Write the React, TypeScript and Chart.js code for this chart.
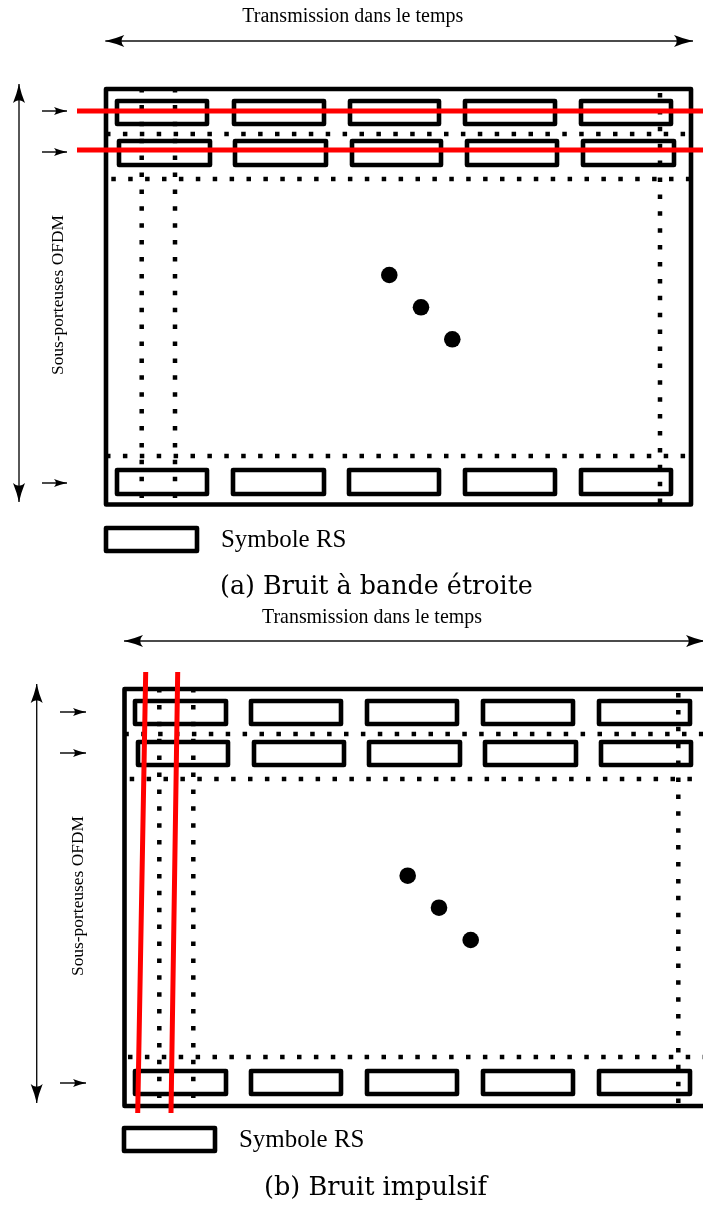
import React, { useEffect, useRef } from "react";
import { Chart, registerables } from "chart.js";

Chart.register(...registerables);

const CANVAS_W = 703;
const CANVAS_H = 1205;

// ---------- Panel (a) : narrow-band noise ----------
const frameA = [106, 89, 691, 504.5];
const rowYA = [[101, 124], [141, 165], [470, 494]];
const colXA = [
  [[117, 207], [234, 324], [350, 439], [465, 555], [581, 671]],
  [[119, 210], [235, 326], [352, 441], [467, 557], [583, 674]],
  [[117, 207], [233, 324], [349, 439], [465, 555], [581, 671]],
];
const legendRectA = [106, 528, 197, 551];
const dottedA = [
  [106, 134, 688, 134],
  [111.3, 179, 690, 179],
  [106, 456, 688, 456],
  [141.7, 88, 141.7, 500],
  [175, 88, 175, 500],
  [660, 93, 660, 505],
];
const dotsA = [[389.3, 275], [421, 307.3], [452.3, 339.3]];
const redLinesA = [[77, 111, 703, 111], [77, 150, 703, 150]];

// ---------- Panel (b) : impulsive noise ----------
const frameB = [124.5, 689, 712, 1106];
const rowYB = [[701, 724], [742, 765], [1071, 1094]];
const colXB = [
  [[135, 226], [251, 341], [367, 457], [483, 573], [599, 690]],
  [[138, 228], [254, 344], [369, 460], [485, 576], [601, 691]],
  [[135, 226], [251, 341], [367, 457], [483, 573], [599, 690]],
];
const legendRectB = [124, 1128, 215, 1151];
const dottedB = [
  [124.3, 734, 712, 734],
  [129.7, 779, 712, 779],
  [128, 1057, 712, 1057],
  [159.3, 688, 159.3, 1104],
  [193.3, 688, 193.3, 1104],
  [678.3, 693, 678.3, 1110],
];
const dotsB = [[407.7, 875.7], [439, 907.7], [470.7, 940]];
const redLinesB = [[145.7, 672, 137.7, 1113], [177.7, 672, 171, 1113]];

// ---------- Arrows ----------
const timeArrows = [[105.3, 41, 693, 41], [124, 641, 705, 641]];
const carrierArrows = [[19, 84, 19, 502], [36.7, 684, 36.7, 1103]];
const smallArrows = [
  [42, 111, 67, 111], [42, 152, 67, 152], [42, 483, 67, 483],
  [60, 712, 86, 712], [60, 753, 86, 753], [60, 1083, 86, 1083],
];

// ---------- Texts ----------
const timeLabel = "Transmission dans le temps";
const timeLabelSpans = [[242.3, 22, 463.3], [262, 622.7, 482]]; // left, baseline, right
const carrierLabel = "Sous-porteuses OFDM";
const carrierLabelSpans = [[63, 375, 215], [82.5, 976, 816]]; // baseline x, start y, end y
const legendLabel = "Symbole RS";
const legendLabelSpans = [[221, 546.7, 346.5], [239, 1146.7, 364.5]];
const captions = ["(a) Bruit à bande étroite", "(b) Bruit impulsif"];
const captionSpans = [[220, 594, 533], [264, 1195, 487]];

// ---------- helpers ----------
function rectPath(r: number[]) {
  const [x1, y1, x2, y2] = r;
  const mx = (x1 + x2) / 2;
  return [[mx, y1], [x2, y1], [x2, y2], [x1, y2], [x1, y1], [mx, y1]];
}
function segPath(s: number[]) {
  return [[s[0], s[1]], [s[2], s[3]]];
}
function toPts(polys: number[][][]) {
  const out: any[] = [];
  polys.forEach((poly) => {
    poly.forEach(([x, y]) => out.push({ x, y }));
    out.push({ x: poly[poly.length - 1][0], y: null });
  });
  return out;
}
function cells(rowY: number[][], colX: number[][][]) {
  const out: number[][] = [];
  rowY.forEach(([y1, y2], i) => colX[i].forEach(([x1, x2]) => out.push([x1, y1, x2, y2])));
  return out;
}

const allRects = [
  frameA, frameB, legendRectA, legendRectB,
  ...cells(rowYA, colXA), ...cells(rowYB, colXB),
];

const arrowLines = [...timeArrows, ...carrierArrows, ...smallArrows];

function drawHead(ctx: CanvasRenderingContext2D, X1: number, Y1: number, X2: number, Y2: number, L: number, Wd: number) {
  const a = Math.atan2(Y2 - Y1, X2 - X1);
  ctx.save();
  ctx.translate(X2, Y2);
  ctx.rotate(a);
  ctx.beginPath();
  ctx.moveTo(0, 0);
  ctx.quadraticCurveTo(-L * 0.5, Wd * 0.18, -L, Wd / 2);
  ctx.quadraticCurveTo(-L * 0.7, 0, -L, -Wd / 2);
  ctx.quadraticCurveTo(-L * 0.5, -Wd * 0.18, 0, 0);
  ctx.closePath();
  ctx.fill();
  ctx.restore();
}

function fitFont(ctx: CanvasRenderingContext2D, text: string, family: string, width: number) {
  const base = 20;
  ctx.font = `${base}px ${family}`;
  const m = ctx.measureText(text).width;
  const size = (base * width) / m;
  ctx.font = `${size}px ${family}`;
}

const diagramPlugin = {
  id: "diagram",
  afterDatasetsDraw(chart: any) {
    const ctx: CanvasRenderingContext2D = chart.ctx;
    const xs = chart.scales.x;
    const ys = chart.scales.y;
    const px = (v: number) => xs.getPixelForValue(v);
    const py = (v: number) => ys.getPixelForValue(v);
    ctx.save();
    ctx.fillStyle = "#000";

    // arrow heads
    [...timeArrows, ...carrierArrows].forEach(([x1, y1, x2, y2]) => {
      drawHead(ctx, px(x1), py(y1), px(x2), py(y2), 19, 12);
      drawHead(ctx, px(x2), py(y2), px(x1), py(y1), 19, 12);
    });
    smallArrows.forEach(([x1, y1, x2, y2]) => {
      drawHead(ctx, px(x1), py(y1), px(x2), py(y2), 13, 8);
    });

    // texts
    ctx.textBaseline = "alphabetic";
    ctx.textAlign = "left";
    const times = "'Liberation Serif', 'Times New Roman', serif";
    const cm = "'DejaVu Serif', serif";
    timeLabelSpans.forEach(([l, b, r]) => {
      fitFont(ctx, timeLabel, times, px(r) - px(l));
      ctx.fillText(timeLabel, px(l), py(b));
    });
    legendLabelSpans.forEach(([l, b, r]) => {
      fitFont(ctx, legendLabel, times, px(r) - px(l));
      ctx.fillText(legendLabel, px(l), py(b));
    });
    carrierLabelSpans.forEach(([bx, s, e]) => {
      fitFont(ctx, carrierLabel, times, py(s) - py(e));
      ctx.save();
      ctx.translate(px(bx), py(s));
      ctx.rotate(-Math.PI / 2);
      ctx.fillText(carrierLabel, 0, 0);
      ctx.restore();
    });
    captionSpans.forEach(([l, b, r], i) => {
      fitFont(ctx, captions[i], cm, px(r) - px(l));
      ctx.fillText(captions[i], px(l), py(b));
    });
    ctx.restore();
  },
};

export default function App() {
  const ref = useRef<HTMLCanvasElement | null>(null);
  useEffect(() => {
    if (!ref.current) return;
    const lineBase = { showLine: true, pointRadius: 0, pointHoverRadius: 0, fill: false, spanGaps: false, tension: 0 };
    const chart = new Chart(ref.current, {
      type: "scatter",
      data: {
        datasets: [
          {
            ...lineBase,
            label: "noise",
            data: toPts([...redLinesA, ...redLinesB].map(segPath)),
            borderColor: "#ff0000",
            borderWidth: 5,
            borderCapStyle: "butt",
            order: 0,
          },
          {
            label: "dots",
            data: [...dotsA, ...dotsB].map(([x, y]) => ({ x, y })),
            showLine: false,
            pointRadius: 8.3,
            pointHoverRadius: 8.3,
            pointBackgroundColor: "#000",
            pointBorderWidth: 0,
            borderColor: "#000",
            order: 1,
          },
          {
            ...lineBase,
            label: "dotted",
            data: toPts([...dottedA, ...dottedB].map(segPath)),
            borderColor: "#000",
            borderWidth: 4.5,
            borderDash: [4.5, 12.4],
            borderCapStyle: "butt",
            order: 2,
          },
          {
            ...lineBase,
            label: "rects",
            data: toPts(allRects.map(rectPath)),
            borderColor: "#000",
            borderWidth: 4.6,
            borderJoinStyle: "round",
            borderCapStyle: "round",
            order: 3,
          },
          {
            ...lineBase,
            label: "arrows",
            data: toPts(arrowLines.map(segPath)),
            borderColor: "#111",
            borderWidth: 1.4,
            borderCapStyle: "butt",
            order: 4,
          },
        ] as any,
      },
      options: {
        animation: false,
        responsive: false,
        maintainAspectRatio: false,
        devicePixelRatio: 1,
        events: [],
        layout: { padding: 0, autoPadding: false } as any,
        plugins: {
          legend: { display: false },
          tooltip: { enabled: false },
          title: { display: false },
        },
        scales: {
          x: { type: "linear", min: 0, max: CANVAS_W, display: false },
          y: { type: "linear", min: 0, max: CANVAS_H, reverse: true, display: false },
        },
      },
      plugins: [diagramPlugin],
    });
    return () => chart.destroy();
  }, []);
  return (
    <div style={{ position: "absolute", left: 0, top: 0, width: CANVAS_W, height: CANVAS_H, background: "#fff" }}>
      <canvas ref={ref} width={CANVAS_W} height={CANVAS_H} style={{ display: "block" }} />
    </div>
  );
}
